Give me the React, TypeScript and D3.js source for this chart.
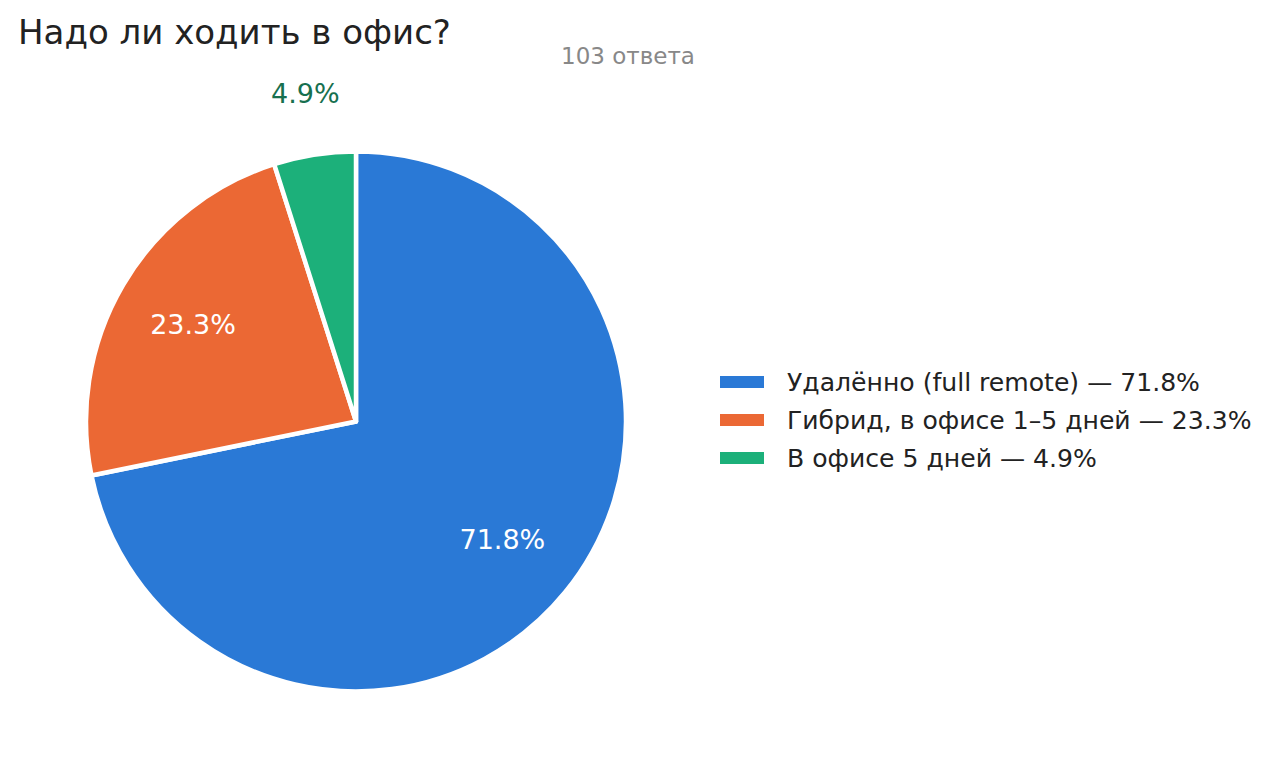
import React from "react";
import * as d3 from "d3";

const categories = [
  "Удалённо (full remote)",
  "Гибрид, в офисе 1–5 дней",
  "В офисе 5 дней",
];
const values = [71.8, 23.3, 4.9];
const colors = ["#2a79d6", "#eb6834", "#1cb07a"];
const labelColors = ["#ffffff", "#ffffff", "#17704f"];
const title = "Надо ли ходить в офис?";
const subtitle = "103 ответа";

export default function App() {
  const W = 1280;
  const H = 778;
  const cx = 356;
  const cy = 421.5;
  const r = 270;
  const font = "DejaVu Sans, sans-serif";

  const pie = d3
    .pie<number>()
    .sort(null)
    .value((d) => d)
    .startAngle(0)
    .endAngle(2 * Math.PI);
  const arcs = pie(values);
  const arc = d3.arc<d3.PieArcDatum<number>>().innerRadius(0).outerRadius(r);
  const inner = d3.arc<d3.PieArcDatum<number>>().innerRadius(r * 0.7).outerRadius(r * 0.7);
  const outer = d3.arc<d3.PieArcDatum<number>>().innerRadius(r * 1.225).outerRadius(r * 1.225);

  return (
    <svg
      width={W}
      height={H}
      style={{ position: "absolute", left: 0, top: 0, background: "#fff" }}
    >
      <text x={18} y={44} fontFamily={font} fontSize={34} fill="#222">
        {title}
      </text>
      <text x={628} y={64} fontFamily={font} fontSize={23} fill="#888" textAnchor="middle">
        {subtitle}
      </text>
      <g transform={`translate(${cx},${cy})`}>
        {arcs.map((a, i) => (
          <path key={i} d={arc(a) || ""} fill={colors[i]} stroke="#fff" strokeWidth={4.5} strokeLinejoin="round" />
        ))}
        {arcs.map((a, i) => {
          const [x, y] = (values[i] < 10 ? outer : inner).centroid(a);
          return (
            <text
              key={i}
              x={x}
              y={y}
              dy="0.3em"
              textAnchor="middle"
              fontFamily={font}
              fontSize={27}
              fill={labelColors[i]}
            >
              {values[i].toFixed(1)}%
            </text>
          );
        })}
      </g>
      <g transform="translate(720,382)">
        {categories.map((c, i) => (
          <g key={i} transform={`translate(0,${i * 38})`}>
            <rect x={0} y={-6} width={44} height={12} fill={colors[i]} />
            <text x={67} y={0} dy="0.36em" fontFamily={font} fontSize={25.1} fill="#222">
              {c} — {values[i].toFixed(1)}%
            </text>
          </g>
        ))}
      </g>
    </svg>
  );
}
